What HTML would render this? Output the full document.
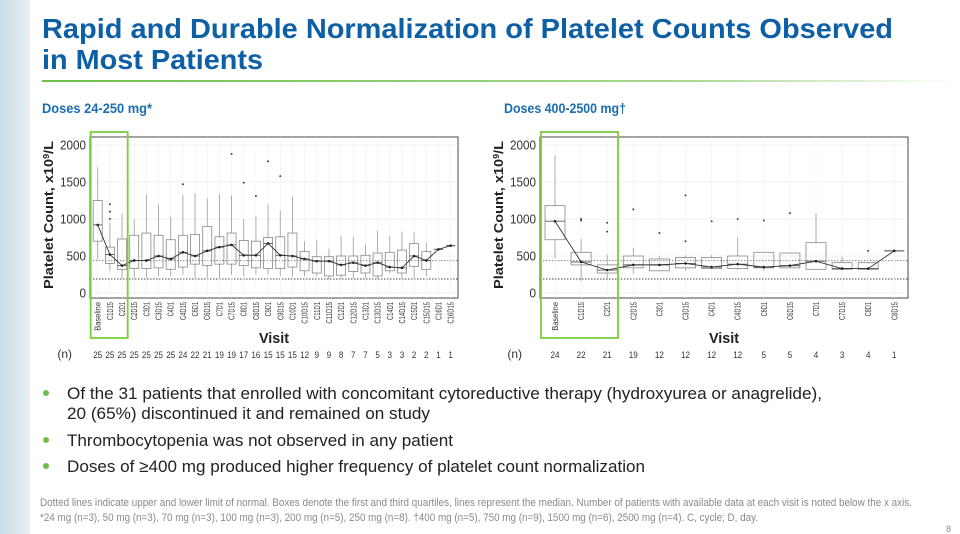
<!DOCTYPE html>
<html><head><meta charset="utf-8"><style>
html,body{margin:0;padding:0;background:#fff;}
svg{display:block;font-family:"Liberation Sans",sans-serif;}
</style></head><body>
<svg id="s" width="960" height="534" viewBox="0 0 960 534" xmlns="http://www.w3.org/2000/svg">
<defs>
<linearGradient id="lg" x1="0" x2="1"><stop offset="0" stop-color="#c9dde6"/><stop offset="1" stop-color="#e6eff3"/></linearGradient>
<linearGradient id="gl" x1="0" x2="1"><stop offset="0" stop-color="#6cc04a"/><stop offset="0.7" stop-color="#a8d890"/><stop offset="1" stop-color="#ffffff"/></linearGradient>
</defs>
<rect x="0" y="0" width="960" height="534" fill="#fff"/>
<rect x="0" y="0" width="30" height="534" fill="url(#lg)"/>
<g lengthAdjust="spacingAndGlyphs">
<text x="42" y="38" font-size="28" font-weight="bold" fill="#0d5fa6" textLength="851" lengthAdjust="spacingAndGlyphs">Rapid and Durable Normalization of Platelet Counts Observed</text>
<text x="42" y="69" font-size="28" font-weight="bold" fill="#0d5fa6" textLength="221" lengthAdjust="spacingAndGlyphs">in Most Patients</text>
</g>
<rect x="42" y="80" width="918" height="2" fill="url(#gl)"/>
<text x="42" y="113" font-size="14" font-weight="bold" fill="#1a6db0" textLength="110" lengthAdjust="spacingAndGlyphs">Doses 24-250 mg*</text>
<text x="504" y="113" font-size="14" font-weight="bold" fill="#1a6db0" textLength="122" lengthAdjust="spacingAndGlyphs">Doses 400-2500 mg†</text>
<g id="charts"></g>
<g font-size="17" fill="#222">
<circle cx="46" cy="393" r="3" fill="#6cc04a"/>
<text x="67" y="399" textLength="755" lengthAdjust="spacingAndGlyphs">Of the 31 patients that enrolled with concomitant cytoreductive therapy (hydroxyurea or anagrelide),</text>
<text x="67" y="419" textLength="363" lengthAdjust="spacingAndGlyphs">20 (65%) discontinued it and remained on study</text>
<circle cx="46" cy="440" r="3" fill="#6cc04a"/>
<text x="67" y="446" textLength="386" lengthAdjust="spacingAndGlyphs">Thrombocytopenia was not observed in any patient</text>
<circle cx="46" cy="466" r="3" fill="#6cc04a"/>
<text x="67" y="472" textLength="578" lengthAdjust="spacingAndGlyphs">Doses of ≥400 mg produced higher frequency of platelet count normalization</text>
</g>
<g font-size="11" fill="#8a8a8a">
<text x="40" y="506" textLength="872" lengthAdjust="spacingAndGlyphs">Dotted lines indicate upper and lower limit of normal. Boxes denote the first and third quartiles, lines represent the median. Number of patients with available data at each visit is noted below the x axis.</text>
<text x="40" y="521" textLength="718" lengthAdjust="spacingAndGlyphs">*24 mg (n=3), 50 mg (n=3), 70 mg (n=3), 100 mg (n=3), 200 mg (n=5), 250 mg (n=8). †400 mg (n=5), 750 mg (n=9), 1500 mg (n=6), 2500 mg (n=4). C, cycle; D, day.</text>
<text x="946" y="532" font-size="9">8</text>
</g>
</svg>
<script>
var NS="http://www.w3.org/2000/svg";
var G=document.getElementById("charts");
function el(t,a,txt){var e=document.createElementNS(NS,t);for(var k in a)e.setAttribute(k,a[k]);if(txt!==undefined)e.textContent=txt;G.appendChild(e);return e;}
function Y(v){return 293-v*0.074;}
var L={x0:90,x1:458,first:97.7,step:12.17,names:["Baseline","C1D15","C2D1","C2D15","C3D1","C3D15","C4D1","C4D15","C6D1","C6D15","C7D1","C7D15","C8D1","C8D15","C9D1","C9D15","C10D1","C10D15","C11D1","C11D15","C12D1","C12D15","C13D1","C13D15","C14D1","C14D15","C15D1","C15D15","C16D1","C16D15"],
n:[25,25,25,25,25,25,25,24,22,21,19,19,17,16,15,15,15,12,9,9,8,7,7,5,3,3,2,2,1,1],bw:9,
d:[[700,1250,920,1700,450,[]],[400,620,520,950,300,[1000,1100,1200]],[320,730,370,1070,200,[]],[330,780,440,1000,200,[]],[330,810,440,1330,200,[]],[340,780,500,1200,230,[]],[320,720,460,1030,230,[]],[350,780,550,1320,250,[1470]],[390,790,500,1350,200,[]],[370,900,570,1280,200,[]],[390,760,620,1340,200,[]],[390,810,650,1320,250,[1880]],[370,710,510,1000,230,[1490]],[340,700,510,1040,250,[1310]],[330,750,670,1200,250,[1780]],[330,760,510,1120,230,[1580]],[350,810,500,1300,230,[]],[300,560,460,700,230,[]],[270,490,430,720,230,[]],[230,490,430,600,190,[]],[240,500,380,770,200,[]],[290,500,410,760,200,[]],[270,510,370,650,200,[]],[230,540,410,840,190,[]],[300,550,350,770,270,[]],[270,580,340,830,200,[]],[360,670,500,820,200,[]],[320,560,440,680,230,[]],[590],[640]],
gx:[90.7,127.7],ny:358};
var R={x0:540,x1:908,first:555,step:26.1,names:["Baseline","C1D15","C2D1","C2D15","C3D1","C3D15","C4D1","C4D15","C6D1","C6D15","C7D1","C7D15","C8D1","C8D15"],
n:[24,22,21,19,12,12,12,12,5,5,4,3,4,1],bw:20,
d:[[720,1180,970,1860,470,[]],[380,550,420,730,160,[980,1000]],[270,380,310,520,170,[830,950]],[340,500,380,610,260,[1130]],[300,460,380,500,300,[810]],[340,480,400,510,300,[700,1320]],[330,480,350,510,330,[970]],[330,500,390,750,310,[1000]],[340,550,350,550,300,[980]],[340,540,370,540,340,[1080]],[320,680,430,1070,320,[]],[320,410,330,490,320,[]],[320,410,330,400,320,[570]],[570]],
gx:[541,618],ny:358};
function chart(C){
 el("rect",{x:C.x0,y:137,width:C.x1-C.x0,height:161,fill:"#fff",stroke:"#666","stroke-width":1.2});
 [0,500,1000,1500,2000].forEach(function(v){el("line",{x1:C.x0,x2:C.x1,y1:Y(v),y2:Y(v),stroke:"#e6e6e6","stroke-width":0.6});
  el("text",{x:C.x0-4,y:Y(v)+4.5,"font-size":13,"text-anchor":"end",fill:"#333",textLength:String(v).length*6.5,lengthAdjust:"spacingAndGlyphs"},v);});
 el("line",{x1:C.x0,x2:C.x1,y1:260.7,y2:260.7,stroke:"#777","stroke-dasharray":"1.5,1.5","stroke-width":0.9});
 el("line",{x1:C.x0,x2:C.x1,y1:279,y2:279,stroke:"#444","stroke-dasharray":"1.5,1.5","stroke-width":0.9});
 var pts=[];
 C.d.forEach(function(b,i){var x=C.first+i*C.step;
  el("line",{x1:x,x2:x,y1:137,y2:298,stroke:"#eee","stroke-width":0.5});
  if(b.length==1){var y=Y(b[0]);el("line",{x1:x-C.bw/2,x2:x+C.bw/2,y1:y,y2:y,stroke:"#444","stroke-width":1});pts.push([x,y]);return;}
  el("line",{x1:x,x2:x,y1:Y(b[3]),y2:Y(b[1]),stroke:"#999","stroke-width":0.8});
  el("line",{x1:x,x2:x,y1:Y(b[0]),y2:Y(b[4]),stroke:"#999","stroke-width":0.8});
  el("rect",{x:x-C.bw/2,y:Y(b[1]),width:C.bw,height:Y(b[0])-Y(b[1]),fill:"none",stroke:"#888","stroke-width":0.8});
  el("line",{x1:x-C.bw/2,x2:x+C.bw/2,y1:Y(b[2]),y2:Y(b[2]),stroke:"#555","stroke-width":0.9});
  b[5].forEach(function(o){el("circle",{cx:x,cy:Y(o),r:1,fill:"#444"});});
  pts.push([x,Y(b[2])]);
 });
 el("polyline",{points:pts.map(function(p){return p.join(",")}).join(" "),fill:"none",stroke:"#333","stroke-width":0.9});
 pts.forEach(function(p){el("circle",{cx:p[0],cy:p[1],r:1.3,fill:"#222"});});
 C.names.forEach(function(nm,i){var x=C.first+i*C.step+3;
  el("text",{x:0,y:0,"font-size":8.5,fill:"#333","text-anchor":"end",transform:"translate("+x+",302) rotate(-90)",textLength:nm.length*3.6,lengthAdjust:"spacingAndGlyphs"},nm);});
 C.n.forEach(function(n,i){var x=C.first+i*C.step;el("text",{x:x,y:C.ny,"font-size":9,fill:"#333","text-anchor":"middle",textLength:String(n).length*4.5,lengthAdjust:"spacingAndGlyphs"},n);});
 el("text",{x:C.x0-18,y:C.ny,"font-size":12,fill:"#333","text-anchor":"end"},"(n)");
 el("text",{x:(C.x0+C.x1)/2,y:343,"font-size":15,"font-weight":"bold",fill:"#222","text-anchor":"middle",textLength:30,lengthAdjust:"spacingAndGlyphs"},"Visit");
 var t=el("text",{x:0,y:0,"font-size":13,"font-weight":"bold",fill:"#222","text-anchor":"middle",transform:"translate("+(C.x0-37)+",215) rotate(-90)",textLength:148,lengthAdjust:"spacingAndGlyphs"});
 t.innerHTML='Platelet Count, x10<tspan dy="-4" font-size="8">9</tspan><tspan dy="4">/L</tspan>';
 el("rect",{x:C.gx[0],y:132,width:C.gx[1]-C.gx[0],height:206,fill:"none",stroke:"#7ccc3c","stroke-width":1.8});
}
chart(L);chart(R);
</script>
</body></html>
